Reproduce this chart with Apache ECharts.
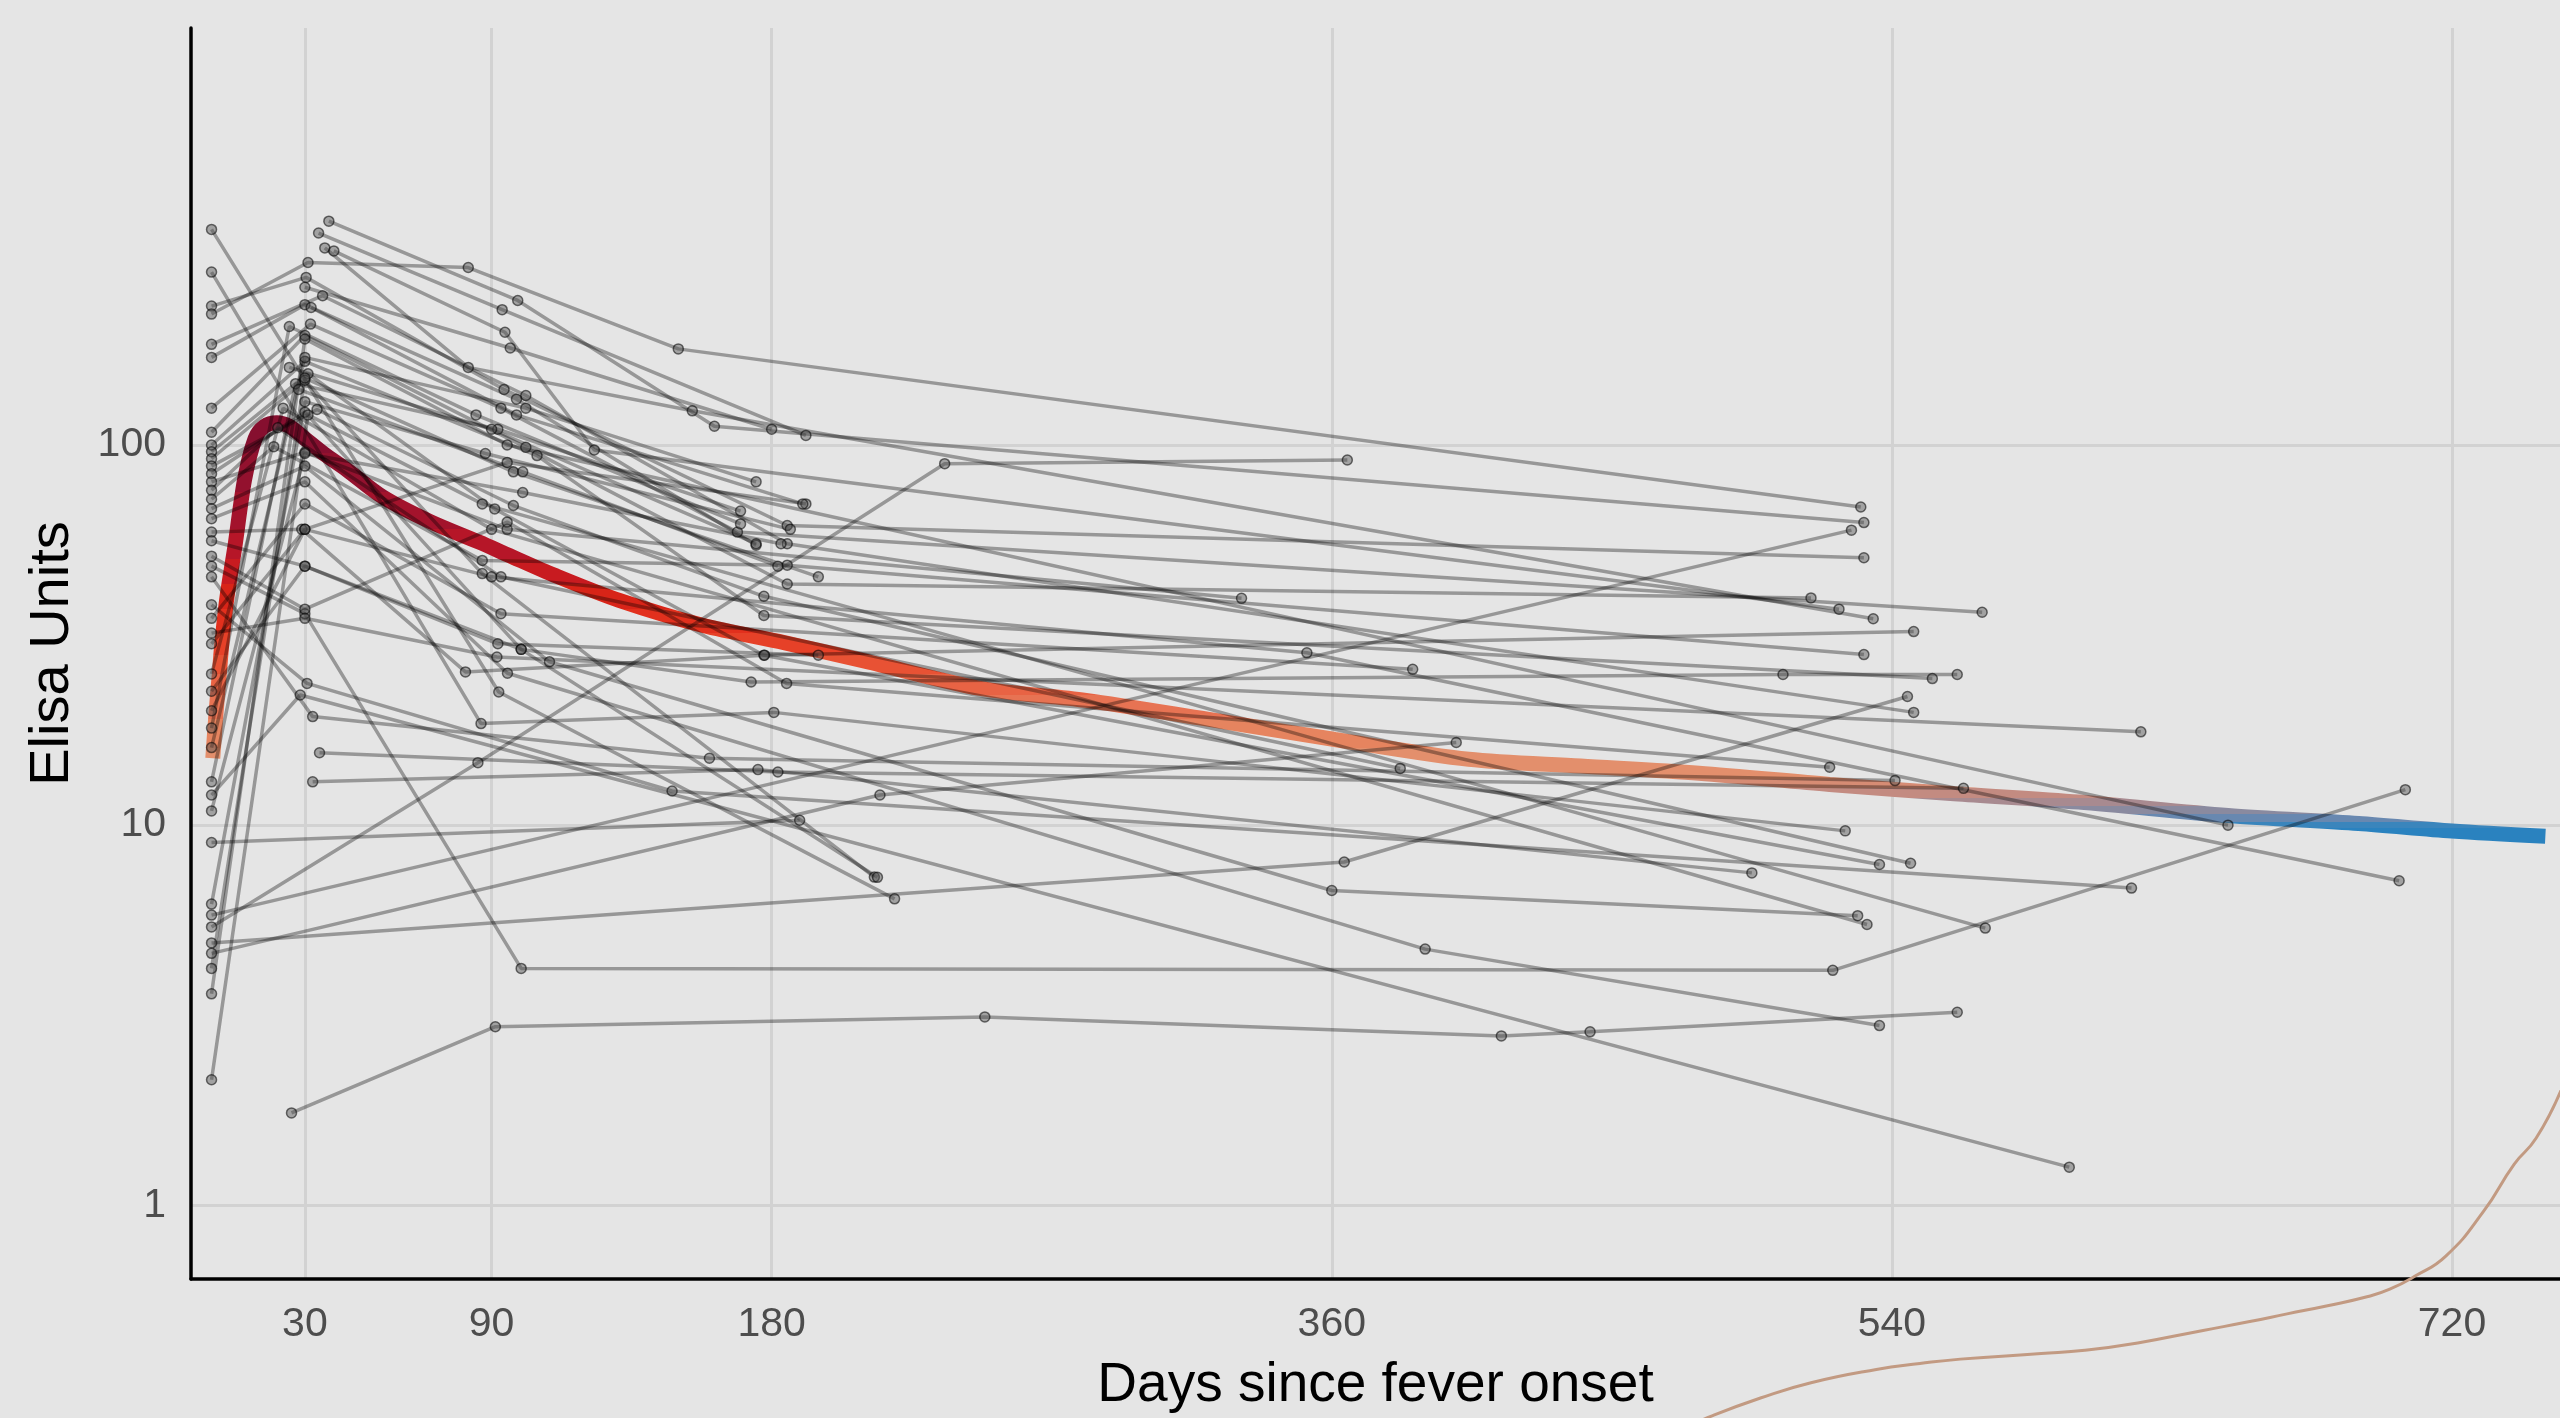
<!DOCTYPE html>
<html>
<head>
<meta charset="utf-8">
<style>
  html, body { margin: 0; padding: 0; background: #e5e5e5; }
  #chart { width: 2560px; height: 1418px; }
</style>
<script src="https://cdn.jsdelivr.net/npm/echarts@6/dist/echarts.min.js"></script>
</head>
<body>
<div id="chart"></div>
<script>
// ---- Tick labels ----
const xTicks = [30, 90, 180, 360, 540, 720];
const yTicks = [1, 10, 100];

// ---- Individual patient trajectories (days since fever onset / Elisa units) ----
const patientDays = [
  [0, 92.3, 219.5],
  [0, 86.6, 180.7, 525],
  [0, 30.4, 94, 185, 531],
  [0, 31, 82.5, 150, 530],
  [37.7, 98.4, 161.6, 531],
  [34.4, 93.4, 191],
  [36.4, 82.5, 154.5, 534],
  [39.3, 94.3, 123, 523],
  [0, 35.7, 101, 185, 547],
  [0, 30, 98, 175],
  [0, 31.8, 93, 169, 569],
  [0, 30, 101, 185, 514],
  [0, 30, 104.6, 177.5, 553],
  [0, 31, 91, 177.5, 536],
  [0, 30, 87, 213],
  [0, 33.9, 97, 177.5, 546],
  [0, 30, 99.5, 214],
  [0, 30, 95, 331],
  [0, 21.3, 93, 382],
  [0, 20, 87, 185, 531],
  [0, 30, 108.6, 360, 529],
  [0, 85.6, 235.6, 365],
  [0, 30, 95.1, 390, 536],
  [0, 30, 99.5, 521, 705],
  [25.7, 91.2, 248.5, 414.5, 443, 561],
  [0, 28.5, 597],
  [0, 527],
  [0, 364, 545],
  [0, 29, 81.6, 177.7, 547],
  [0, 30, 99.5, 173.4, 505, 561],
  [0, 30, 95, 184.8, 520],
  [0, 32.5, 160, 541],
  [34.7, 182, 563],
  [32.5, 175.6, 495],
  [0, 30.7, 148, 617],
  [0, 30, 91.7, 620],
  [0, 30, 90, 352, 703],
  [0, 30, 93, 386],
  [0, 23, 90, 532],
  [0, 31, 87, 570],
  [0, 30, 95, 648],
  [0, 30, 97, 195],
  [0, 214.8, 400],
  [0, 30, 88, 186],
  [0, 189],
  [0, 30, 100, 183],
  [0, 27, 92, 170],
  [0, 30, 101, 175],
  [0, 25, 85, 170],
  [0, 30, 95, 191],
  [0, 30, 92, 195],
  [30, 96, 180],
  [32, 98, 190],
  [25, 90, 175],
  [28, 100, 182]
];
const patientValues = [
  [369, 22.4, 6.4],
  [285, 18.5, 19.8, 9.66],
  [232, 276, 140, 61.4, 50.5],
  [221, 302, 293, 179, 68.7],
  [388, 240, 112, 62.5],
  [361, 227, 106],
  [330, 160, 123, 34.9],
  [324, 198, 97, 37],
  [184, 247, 135, 55, 19.8],
  [170, 234, 132, 54.5],
  [125, 208, 125, 59, 36.3],
  [108, 194, 98.6, 43.1, 39.6],
  [100, 166, 93.8, 35.6, 24.3],
  [96, 154, 67.9, 28, 7.88],
  [92, 148, 45.9, 7.3],
  [88, 124, 69.3, 40, 7.94],
  [84, 122, 29, 7.29],
  [80, 95.7, 60, 39.5],
  [76, 111, 45, 14.1],
  [72, 99, 49.7, 48.3, 28.1],
  [68, 88, 26.9, 6.73, 5.78],
  [5.4, 14.6, 89.3, 91.3],
  [64, 80, 25.1, 4.72, 2.97],
  [48, 36, 4.2, 4.15, 12.4],
  [1.75, 2.95, 3.13, 2.79, 2.86, 3.22],
  [12, 22, 1.26],
  [5.8, 59.7],
  [4.9, 8.0, 21.8],
  [59, 60, 25.3, 28, 32.3],
  [56, 48, 29.0, 23.8, 24.9, 24.9],
  [51, 37, 62.7, 23.6, 14.2],
  [45, 19.3, 15, 13.1],
  [15.5, 13.8, 12.5],
  [13, 14, 7.49],
  [38, 23.6, 12.3, 6.83],
  [32, 35, 27.7, 17.6],
  [30, 60, 45, 28.4, 7.14],
  [35, 70, 36, 25.7],
  [25, 125, 60, 5.48],
  [2.14, 120, 70, 5.36],
  [3.6, 190, 100, 10.0],
  [4.2, 150, 85, 45],
  [4.6, 12.0, 16.5],
  [6.2, 130, 95, 60],
  [9, 10.3],
  [10.9, 95, 75, 55],
  [13, 145, 110, 67],
  [16, 170, 125, 80],
  [18, 205, 120, 62],
  [20, 60, 90, 70],
  [22.5, 48, 30, 28],
  [260, 180, 110],
  [230, 120, 70],
  [160, 110, 55],
  [140, 85, 48]
];

// ---- Smoothed population curve ----
const curveDays = [0.4, 1.5, 2.5, 3.3, 5, 7.5, 10.6, 14, 17, 21, 25, 30, 36, 43.5, 55, 70, 86, 95, 110, 131, 158, 184, 210, 247, 281, 320, 361, 404, 440, 478, 520, 560, 600, 648, 690, 720, 750];
const curveValues = [15, 20, 25, 30, 40, 54, 81, 104, 112, 114.5, 112, 104, 95, 86, 73, 63, 55.5, 51.5, 45.5, 39, 33.5, 30.2, 27, 22.9, 21.3, 19, 16.8, 14.9, 14.3, 13.7, 12.8, 12.1, 11.5, 10.6, 10.1, 9.65, 9.35];

// ---- Partially visible density curve (bottom right) ----
const densityDays = [470, 482, 498, 514, 535, 549, 562, 588, 602, 619, 640, 655, 667, 680, 693, 700, 708, 718, 730, 740, 747, 755];
const densityValues = [-0.04, 0.005, 0.055, 0.096, 0.132, 0.148, 0.16, 0.175, 0.184, 0.204, 0.238, 0.262, 0.283, 0.305, 0.33, 0.35, 0.385, 0.44, 0.56, 0.69, 0.76, 0.89];

const FONT = 'Liberation Sans, Arial, Helvetica, sans-serif';

const chart = echarts.init(document.getElementById('chart'), null, { renderer: 'canvas' });

const series = [];
series.push({
  type: 'line',
  name: 'curve',
  xAxisIndex: 0, yAxisIndex: 0,
  data: curveDays.map((d, i) => [d, curveValues[i]]),
  symbol: 'none',
  smooth: 0.3,
  lineStyle: { width: 15, cap: 'butt' },
  z: 2,
  silent: true
});
patientDays.forEach((days, i) => {
  series.push({
    type: 'line',
    xAxisIndex: 0, yAxisIndex: 0,
    data: days.map((d, j) => [d, patientValues[i][j]]),
    symbol: 'circle',
    symbolSize: 10,
    showSymbol: true,
    lineStyle: { color: 'rgba(0,0,0,0.34)', width: 3.5 },
    itemStyle: { color: 'rgba(80,80,80,0.45)', borderColor: 'rgba(0,0,0,0.55)', borderWidth: 1.5 },
    z: 3,
    silent: true
  });
});
series.push({
  type: 'line',
  xAxisIndex: 1, yAxisIndex: 1,
  data: densityDays.map((d, i) => [d, densityValues[i]]),
  symbol: 'none',
  smooth: 0.5,
  lineStyle: { color: '#c29a82', width: 3 },
  z: 4,
  silent: true
});

const option = {
  animation: false,
  backgroundColor: '#e5e5e5',
  grid: [
    { left: 191, right: 0, top: 28, bottom: 136 },
    { left: 191, right: 0, top: 1050, bottom: 0 }
  ],
  xAxis: [
    {
      type: 'value', gridIndex: 0, min: -6.6, max: 754.7,
      axisLine: { show: true, onZero: false, lineStyle: { color: '#000', width: 3.5 } },
      axisTick: { show: false, customValues: xTicks },
      axisLabel: { customValues: xTicks, color: '#4d4d4d', fontSize: 41, margin: 25, fontFamily: FONT },
      splitLine: { show: true, lineStyle: { color: '#d2d2d2', width: 3 } },
      name: 'Days since fever onset', nameLocation: 'middle', nameGap: 79,
      nameTextStyle: { color: '#000', fontSize: 55, fontFamily: FONT }
    },
    {
      type: 'value', gridIndex: 1, min: -6.6, max: 754.7, show: false
    }
  ],
  yAxis: [
    {
      type: 'log', logBase: 10, gridIndex: 0, min: 0.64, max: 1250,
      axisLine: { show: true, onZero: false, lineStyle: { color: '#000', width: 3.5 } },
      axisTick: { show: false, customValues: yTicks },
      axisLabel: { customValues: yTicks, color: '#4d4d4d', fontSize: 41, margin: 25, fontFamily: FONT },
      splitLine: { show: true, lineStyle: { color: '#d2d2d2', width: 3 } },
      name: 'Elisa Units', nameLocation: 'middle', nameGap: 110,
      nameTextStyle: { color: '#000', fontSize: 56, fontFamily: FONT }
    },
    {
      type: 'value', gridIndex: 1, min: 0, max: 1, show: false
    }
  ],
  visualMap: {
    type: 'piecewise',
    show: false,
    seriesIndex: 0,
    dimension: 1,
    pieces: [
      { min: 0, max: 9.8, color: '#2a82bf' },
      { min: 9.8, max: 10.2, color: '#3a85bc' },
      { min: 10.2, max: 10.7, color: '#6888b0' },
      { min: 10.7, max: 11.2, color: '#8a8a9f' },
      { min: 11.2, max: 11.8, color: '#a88a90' },
      { min: 11.8, max: 12.5, color: '#c38b81' },
      { min: 12.5, max: 13.2, color: '#d68c74' },
      { min: 13.2, max: 16, color: '#e38f6c' },
      { min: 16, max: 19, color: '#e6845f' },
      { min: 19, max: 22, color: '#e77353' },
      { min: 22, max: 25, color: '#e86344' },
      { min: 25, max: 28, color: '#e85234' },
      { min: 28, max: 32, color: '#e64128' },
      { min: 32, max: 37, color: '#e2301d' },
      { min: 37, max: 43, color: '#d82418' },
      { min: 43, max: 50, color: '#c81b20' },
      { min: 50, max: 60, color: '#b61628' },
      { min: 60, max: 75, color: '#a3132c' },
      { min: 75, max: 95, color: '#93112e' },
      { min: 95, max: 10000, color: '#860f2f' }
    ]
  },
  series: series
};
chart.setOption(option);
</script>
</body>
</html>
